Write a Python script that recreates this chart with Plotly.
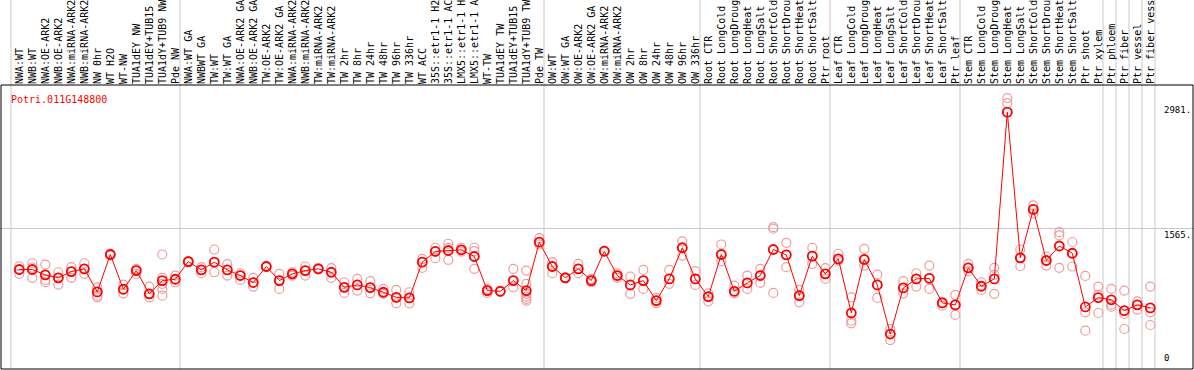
import plotly.graph_objects as go

gene = "Potri.011G148800"

labels = [
    # group 1
    "NWA:WT", "NWB:WT", "NWA:OE-ARK2", "NWB:OE-ARK2", "NWA:miRNA-ARK2", "NWB:miRNA-ARK2",
    "NW 0hr", "WT H2O", "WT-NW", "TUA1dEY NW", "TUA1dEY+TUB15", "TUA1dY+TUB9 NW", "Pde NW",
    # group 2
    "NWA:WT GA", "NWBWT GA", "TW:WT", "TW:WT GA", "NWA:OE-ARK2 GA", "NWB:OE-ARK2 GA",
    "TW:OE-ARK2", "TW:OE-ARK2 GA", "NWA:miRNA-ARK2", "NWB:miRNA-ARK2", "TW:miRNA-ARK2",
    "TW:miRNA-ARK2", "TW 2hr", "TW 8hr", "TW 24hr", "TW 48hr", "TW 96hr", "TW 336hr",
    "WT ACC", "35S::etr1-1 H2", "35S::etr1-1 AC", "LMX5::etr1-1 H", "LMX5::etr1-1 A",
    "WT-TW", "TUA1dEY TW", "TUA1dEY+TUB15", "TUA1dY+TUB9 TW", "Pde TW",
    # group 3
    "OW:WT", "OW:WT GA", "OW:OE-ARK2", "OW:OE-ARK2 GA", "OW:miRNA-ARK2", "OW:miRNA-ARK2",
    "OW 2hr", "OW 8hr", "OW 24hr", "OW 48hr", "OW 96hr", "OW 336hr",
    # group 4
    "Root CTR", "Root LongCold", "Root LongDroug", "Root LongHeat", "Root LongSalt",
    "Root ShortCold", "Root ShortDrou", "Root ShortHeat", "Root ShortSalt", "Ptr root",
    # group 5
    "Leaf CTR", "Leaf LongCold", "Leaf LongDroug", "Leaf LongHeat", "Leaf LongSalt",
    "Leaf ShortCold", "Leaf ShortDrou", "Leaf ShortHeat", "Leaf ShortSalt", "Ptr leaf",
    # group 6
    "Stem CTR", "Stem LongCold", "Stem LongDroug", "Stem LongHeat", "Stem LongSalt",
    "Stem ShortCold", "Stem ShortDrou", "Stem ShortHeat", "Stem ShortSalt", "Ptr shoot",
    "Ptr xylem",
    # single groups
    "Ptr phloem", "Ptr fiber", "Ptr vessel", "Ptr fiber vess",
]

means = [
    1099, 1099, 1039, 1005, 1076, 1107, 846, 1269, 876, 1087, 824, 974, 989,
    1189, 1095, 1182, 1095, 1031, 952, 1133, 974, 1050, 1087, 1107, 1068, 898, 925,
    895, 842, 785, 778, 1182, 1303, 1314, 1322, 1246, 861, 853, 974, 861, 1408,
    1133, 1005, 1107, 974, 1306, 1031, 925, 974, 748, 993, 1345, 993,
    793, 1269, 853, 948, 1031, 1325, 1265, 804, 1250, 1050,
    1220, 608, 1212, 925, 370, 891, 993, 1000, 722, 699,
    1118, 910, 993, 2877, 1231, 1778, 1201, 1365, 1283, 676, 782,
    757, 634, 700, 665,
]

replicates = [
    [1136, 1099, 1050], [1170, 1122, 1005], [1155, 1039, 982, 956], [1068, 1005, 929],
    [1125, 1076, 1005], [1170, 1107, 1050], [898, 846, 804, 785], [1280, 1269, 1258],
    [929, 876, 830], [1107, 1087, 1050], [906, 824, 785], [1269, 1005, 937, 880, 804],
    [1031, 989, 955],
    [1195, 1189, 1180], [1125, 1095, 1057], [1325, 1182, 1068], [1159, 1095, 1031],
    [1057, 1031, 982], [1005, 952, 906], [1140, 1133, 1125], [1050, 974, 880],
    [1068, 1050, 1031], [1133, 1087, 1031], [1115, 1107, 1100], [1114, 1068, 1005],
    [955, 898, 835], [993, 925, 861], [967, 895, 830], [880, 842, 824], [869, 785, 717],
    [842, 778, 717], [1220, 1182, 1118], [1345, 1303, 1227], [1390, 1344, 1209],
    [1345, 1322, 1300], [1345, 1306, 1246, 1107], [880, 861, 835], [860, 853, 846],
    [1107, 974, 898], [1087, 937, 824, 793, 767, 748], [1453, 1408, 1382],
    [1182, 1133, 1057], [1012, 1005, 998], [1163, 1107, 1057], [993, 974, 955],
    [1313, 1306, 1299], [1057, 1031, 1005], [1020, 925, 824], [1095, 974, 880],
    [778, 748, 717], [1095, 993, 937], [1416, 1345, 1257], [1080, 993, 925],
    [830, 793, 740], [1382, 1269, 1193], [918, 853, 830], [1031, 948, 880],
    [1107, 1031, 948], [1578, 1560, 835], [1401, 1265, 1125], [869, 804, 728],
    [1345, 1250, 1163], [1114, 1050, 993],
    [1277, 1220, 1200], [785, 521, 491], [1333, 1212, 1144], [1042, 925, 778],
    [427, 370, 302], [967, 891, 830], [1057, 993, 906], [1144, 1000, 880],
    [730, 722, 691], [812, 699, 586],
    [1163, 1118, 1080], [955, 910, 869], [1118, 1040, 824], [3036, 2980, 2877],
    [1325, 1231, 1136], [1824, 1778, 1730], [1246, 1201, 1144], [1521, 1484, 1118],
    [1410, 1283, 1133], [1027, 615, 408], [906, 816, 608],
    [880, 702, 680], [861, 597, 427], [740, 700, 646], [906, 615, 472],
]

group_starts = [0, 13, 41, 53, 63, 73, 84, 85, 86, 87, 88]
y_tick_vals = [0, 1565, 2981]
y_tick_text = ["0", "1565.", "2981."]

W, H = 1194, 370
MT, MB = 85, 1
X_RANGE = [-19.3 / 13, -19.3 / 13 + W / 13]
Y_RANGE = [-25, 3184]

xs = list(range(len(labels)))
rx, ry = [], []
for i, vals in enumerate(replicates):
    for v in vals:
        rx.append(i)
        ry.append(v)

fig = go.Figure()
fig.add_trace(go.Scatter(
    x=rx, y=ry, mode="markers",
    marker=dict(symbol="circle-open", size=9, color="#f09c9c", line=dict(width=1.2, color="#f09c9c")),
    hoverinfo="skip", showlegend=False,
))
fig.add_trace(go.Scatter(
    x=xs, y=means, mode="lines+markers",
    line=dict(color="#ff0000", width=1),
    marker=dict(symbol="circle-open", size=9, color="#ff0000", line=dict(width=1.8, color="#ff0000")),
    showlegend=False,
))


def xpaper(v):
    return (v - X_RANGE[0]) / (X_RANGE[1] - X_RANGE[0])


def ypaper(v):
    return (v - Y_RANGE[0]) / (Y_RANGE[1] - Y_RANGE[0])


plot_h = H - MT - MB
shapes = []
for b in group_starts:
    xp = xpaper(b - 8.3 / 13)
    shapes.append(dict(type="line", xref="paper", yref="paper", x0=xp, x1=xp,
                       y0=0, y1=(H - MB) / plot_h, line=dict(color="#c8c8c8", width=1), layer="below"))
# frame
shapes.append(dict(type="rect", xref="paper", yref="paper", x0=1 / W, x1=(W - 1) / W, y0=0, y1=1,
                   line=dict(color="black", width=1)))

annotations = [dict(text=gene, xref="paper", yref="paper", x=9 / W, y=ypaper(3184) - 7 / plot_h,
                    xanchor="left", yanchor="top", showarrow=False,
                    font=dict(family="DejaVu Sans Mono", size=10, color="#ff0000"))]
for v, t in zip(y_tick_vals, y_tick_text):
    annotations.append(dict(text=t, xref="paper", yref="y", x=1162 / W, y=v,
                            xanchor="left", yanchor="bottom" if v == 0 else "top",
                            yshift=2 if v == 0 else 0,
                            showarrow=False,
                            font=dict(family="DejaVu Sans Mono", size=9, color="black")))

fig.update_layout(
    width=W, height=H,
    margin=dict(l=0, r=0, t=MT, b=MB, pad=0),
    paper_bgcolor="white", plot_bgcolor="white",
    shapes=shapes, annotations=annotations,
    showlegend=False,
    xaxis=dict(range=X_RANGE, side="top", tickmode="array", tickvals=xs, ticktext=labels,
               tickangle=-90, showgrid=False, zeroline=False, showline=False, ticks="",
               tickfont=dict(family="DejaVu Sans Mono", size=10, color="black"),
               ticklabeloverflow="allow", automargin=False, fixedrange=True),
    yaxis=dict(range=Y_RANGE, tickmode="array", tickvals=[1565], showticklabels=False,
               showgrid=True, gridcolor="#c8c8c8", gridwidth=1, zeroline=False,
               showline=False, ticks="", automargin=False, fixedrange=True),
)

fig.write_html("out.html", config={"displayModeBar": False},
               post_script="document.body.style.margin='0';document.body.style.padding='0';")
